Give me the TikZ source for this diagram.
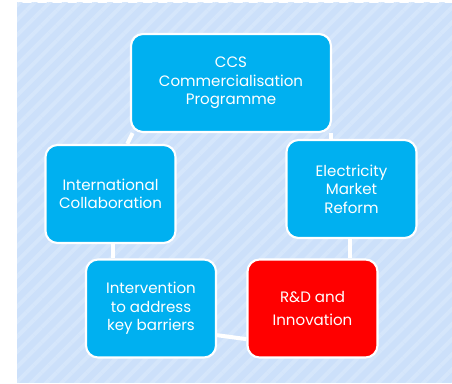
\documentclass[tikz,border=0pt]{standalone}
\usepackage{fontspec}
\setmainfont{Poppins}
\usetikzlibrary{backgrounds,patterns.meta}
\definecolor{boxcyan}{HTML}{00B0F0}
\definecolor{boxred}{HTML}{FF0000}
\definecolor{panelblue}{HTML}{CCE0FA}
\definecolor{stripeblue}{HTML}{D5E6FB}

\begin{document}
\begin{tikzpicture}[x=0.75pt, y=0.75pt,
        block/.style={ draw=white, line width=1.6pt, fill=boxcyan,
          rounded corners=9pt, text=white, align=center,
          minimum width=97.5pt, minimum height=73.5pt, inner sep=2pt,
          font=\fontsize{11.3}{13.8}\selectfont },
        link/.style={ white, line width=3pt } ]
        \useasboundingbox (0,0) rectangle (452,384);

        \node[block,minimum width=150pt] (ccs) at (231,301)
          {CCS\\Commercialisation\\Programme};

        \foreach \x/\y/\n/\t in {110.5/190/intl/{International\\Collaboration},
          351.5/195/elec/{Electricity\\Market\\Reform},
          151/75.5/interv/{Intervention\\to address\\key barriers}}
        \node[block] (\n) at (\x,\y) {\t};

        \node[block,fill=boxred] (rnd) at (312.5,75.5) {R\&D and\\[4pt]Innovation};

        \begin{scope}[on background layer]
        \fill[panelblue] (17,1) rectangle (452,381);
        \fill[pattern={Lines[angle=45,distance=8pt,line width=3pt]},
          pattern color=stripeblue] (17,1) rectangle (452,381);

        \draw[link] ([xshift=2pt]ccs.south west) --
          ([xshift=-2pt]ccs.south west |- intl.north);
        \draw[link] ([xshift=-1pt]ccs.south east) --
          ([xshift=-1pt]ccs.south east |- elec.north);
        \draw[link] ([xshift=-1.5pt]elec.south) --
          ([xshift=-1.5pt]elec.south |- rnd.north);
        \draw[link] ([xshift=2pt]intl.south) --
          ([xshift=2pt]intl.south |- interv.north);
        \draw[link] ([yshift=-20pt]interv.east) -- ([yshift=-23pt]rnd.west);
        \end{scope}
      \end{tikzpicture}
\end{document}
